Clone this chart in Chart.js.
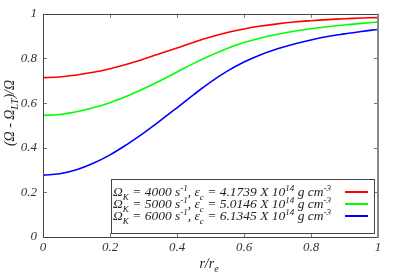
<!DOCTYPE html>
<html>
<head>
<meta charset="utf-8">
<script src="https://cdn.jsdelivr.net/npm/chart.js@4/dist/chart.umd.min.js"></script>
<style>
html,body{margin:0;padding:0;background:#fff;}
#wrap{width:396px;height:277px;position:relative;}
</style>
</head>
<body>
<div id="wrap"><canvas id="c" width="396" height="277"></canvas></div>
<script>
// ---- data ----
const rValues = [0, 0.05, 0.1, 0.15, 0.2, 0.25, 0.3, 0.35, 0.4, 0.45, 0.5, 0.55, 0.6, 0.65, 0.7, 0.75, 0.8, 0.85, 0.9, 0.95, 1.0];
const ratioK4000 = [0.714, 0.717, 0.726, 0.738, 0.754, 0.774, 0.797, 0.822, 0.847, 0.873, 0.896, 0.916, 0.932, 0.945, 0.955, 0.963, 0.969, 0.974, 0.978, 0.981, 0.983];
const ratioK5000 = [0.545, 0.549, 0.561, 0.579, 0.602, 0.631, 0.664, 0.700, 0.739, 0.778, 0.813, 0.845, 0.871, 0.892, 0.908, 0.922, 0.933, 0.942, 0.950, 0.957, 0.963];
const ratioK6000 = [0.277, 0.283, 0.301, 0.330, 0.368, 0.414, 0.465, 0.521, 0.579, 0.638, 0.694, 0.743, 0.784, 0.817, 0.843, 0.865, 0.883, 0.898, 0.910, 0.921, 0.930];
const omegaK = ['4000', '5000', '6000'];
const epsC = ['4.1739', '5.0146', '6.1345'];
const seriesColors = ['#ff0000', '#00ff00', '#0000ff'];
const tickValues = [0, 0.2, 0.4, 0.6, 0.8, 1];

const FONT = '"Liberation Serif", "DejaVu Serif", serif';

function toXY(ys){ return rValues.map((r,i)=>({x:r, y:ys[i]})); }

function richWidth(ctx, parts, size){
  let w = 0;
  for (const [t, k] of parts){
    const s = k === 'n' ? size : Math.round(size*0.7);
    ctx.font = 'italic ' + s + 'px ' + FONT;
    w += ctx.measureText(t).width;
  }
  return w;
}
function drawRich(ctx, parts, x, y, size){
  let cx = x;
  for (const [t, k] of parts){
    const s = k === 'n' ? size : Math.round(size*0.7);
    ctx.font = 'italic ' + s + 'px ' + FONT;
    let dy = 0;
    if (k === 'sub') dy = size*0.3;
    if (k === 'sup') dy = -size*0.4;
    ctx.fillText(t, cx, y + dy);
    cx += ctx.measureText(t).width;
  }
  return cx;
}

const decor = {
  id: 'decor',
  afterDraw(chart){
    const ctx = chart.ctx;
    const a = chart.chartArea;
    const xs = chart.scales.x, ys = chart.scales.y;
    ctx.save();
    // inward ticks
    ctx.strokeStyle = '#777';
    ctx.lineWidth = 1;
    ctx.beginPath();
    for (const v of tickValues){
      const px = Math.round(xs.getPixelForValue(v)) + 0.5;
      ctx.moveTo(px, a.bottom); ctx.lineTo(px, a.bottom - 4);
      ctx.moveTo(px, a.top); ctx.lineTo(px, a.top + 4);
      const py = Math.round(ys.getPixelForValue(v)) + 0.5;
      ctx.moveTo(a.left, py); ctx.lineTo(a.left + 4, py);
      ctx.moveTo(a.right, py); ctx.lineTo(a.right - 4, py);
    }
    ctx.stroke();
    // frame
    ctx.strokeStyle = '#444';
    ctx.lineWidth = 1;
    ctx.beginPath();
    ctx.moveTo(a.right, Math.round(a.top)+0.5);
    ctx.lineTo(Math.round(a.left)+0.5, Math.round(a.top)+0.5);
    ctx.lineTo(Math.round(a.left)+0.5, Math.round(a.bottom)+0.5);
    ctx.lineTo(a.right, Math.round(a.bottom)+0.5);
    ctx.stroke();
    ctx.strokeStyle = '#888';
    ctx.lineWidth = 2;
    ctx.beginPath();
    ctx.moveTo(Math.round(a.right), a.top);
    ctx.lineTo(Math.round(a.right), a.bottom + 1);
    ctx.stroke();

    // legend
    ctx.fillStyle = '#fff';
    const lx = 111.5, ly = 179.5, lw = 263, lh = 54;
    ctx.fillRect(lx, ly, lw, lh);
    ctx.strokeStyle = '#444';
    ctx.lineWidth = 1;
    ctx.strokeRect(lx, ly, lw, lh);
    ctx.textBaseline = 'alphabetic';
    ctx.textAlign = 'left';
    const size = 13.5;
    for (let i = 0; i < 3; i++){
      const parts = [['Ω','n'],['K','sub'],[' = ' + omegaK[i] + ' s','n'],['-1','sup'],[', ε','n'],['c','sub'],
        [' = ' + epsC[i] + ' X 10','n'],['14','sup'],[' g cm','n'],['-3','sup']];
      const baseY = 196 + i*12;
      ctx.fillStyle = '#222';
      drawRich(ctx, parts, 113, baseY, size);
      ctx.strokeStyle = seriesColors[i];
      ctx.lineWidth = 2;
      ctx.beginPath();
      ctx.moveTo(345, baseY - 4);
      ctx.lineTo(368, baseY - 4);
      ctx.stroke();
    }

    // axis titles
    ctx.fillStyle = '#222';
    const xt = [['r/r','n'],['e','sub']];
    const xw = richWidth(ctx, xt, 14);
    drawRich(ctx, xt, 209 - xw/2, 268, 14);

    const yt = [['(Ω - Ω','n'],['LT','sub'],[')/Ω','n']];
    ctx.translate(14, 113);
    ctx.rotate(-Math.PI/2);
    const yw = richWidth(ctx, yt, 14);
    drawRich(ctx, yt, -yw/2, 0, 14);
    ctx.restore();
  }
};

const tickFont = {family: FONT, size: 13, style: 'italic'};
function fmt(v){ if (v === 0) return '0'; if (Math.abs(v-1) < 1e-9) return '1'; return v.toFixed(1); }

new Chart(document.getElementById('c'), {
  type: 'scatter',
  data: {
    datasets: [
      {label: 'K4000', data: toXY(ratioK4000), borderColor: seriesColors[0]},
      {label: 'K5000', data: toXY(ratioK5000), borderColor: seriesColors[1]},
      {label: 'K6000', data: toXY(ratioK6000), borderColor: seriesColors[2]}
    ].map(d => Object.assign(d, {showLine: true, pointRadius: 0, borderWidth: 1.6, tension: 0.4, fill: false}))
  },
  options: {
    responsive: false,
    animation: false,
    events: [],
    layout: {padding: {left: 0, top: 9.5, right: 18, bottom: 0}},
    plugins: {legend: {display: false}, tooltip: {enabled: false}},
    scales: {
      x: {
        type: 'linear', min: 0, max: 1,
        grid: {display: false, drawTicks: false},
        border: {display: false},
        afterBuildTicks(s){ s.ticks = tickValues.map(v => ({value: v})); },
        afterFit(s){ s.height = 40; },
        ticks: {font: tickFont, color: '#333', padding: 3, maxRotation: 0, callback: fmt}
      },
      y: {
        type: 'linear', min: 0, max: 1,
        grid: {display: false, drawTicks: false},
        border: {display: false},
        afterBuildTicks(s){ s.ticks = tickValues.map(v => ({value: v})); },
        afterFit(s){ s.width = 43; },
        ticks: {font: tickFont, color: '#333', padding: 6, callback: fmt}
      }
    }
  },
  plugins: [decor]
});
</script>
</body>
</html>
